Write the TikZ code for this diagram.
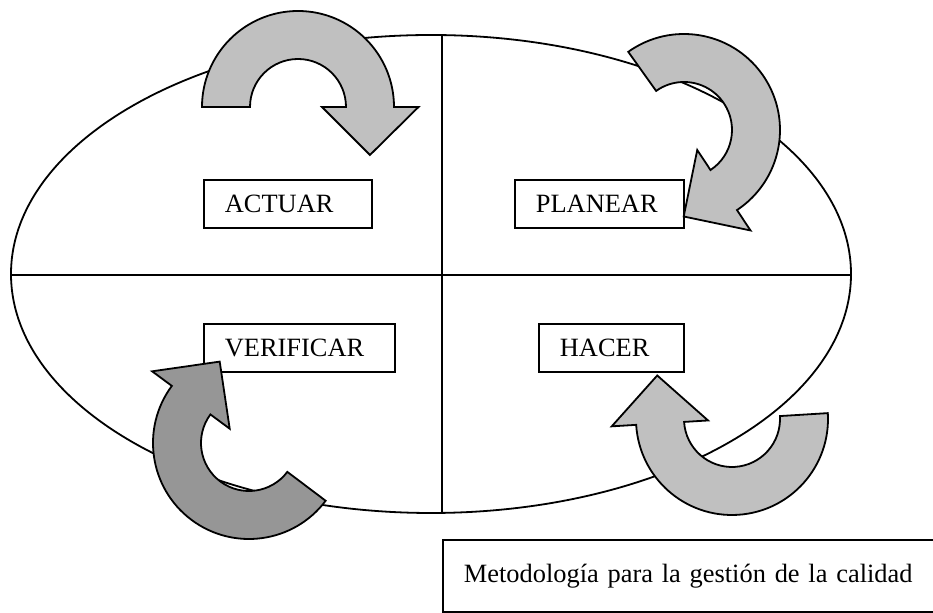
\documentclass[tikz,border=0pt]{standalone}
\usepackage{fontspec}
\setmainfont{Liberation Serif}
\usepackage{tikz}

\definecolor{grisclaro}{RGB}{192,192,192}
\definecolor{grisoscuro}{RGB}{150,150,150}

\begin{document}
\begin{tikzpicture}[x=0.5pt,y=-0.5pt,line width=0.9pt,
  etiqueta/.style={draw,fill=white,anchor=north west,align=left,inner xsep=10.5pt,
    minimum height=24pt,font=\fontsize{13.2}{15}\selectfont},
  flecha/.style={draw=black,line join=miter}]
\useasboundingbox (0,0) rectangle (933,613);
\draw (431,274) ellipse [x radius=420, y radius=239];
\draw (11,275) -- (851,275);
\draw (442,35) -- (442,513);
\node[etiqueta,text width=63pt] (actuar) at (203,179) {ACTUAR};
\node[etiqueta,text width=63.5pt] (planear) at (514,179) {PLANEAR};
\node[etiqueta,text width=74.5pt] (verificar) at (203,323) {VERIFICAR};
\node[etiqueta,text width=51.5pt] (hacer) at (538,323) {HACER};
\node[etiqueta,text width=228pt,minimum height=36pt] (titulo) at (442,539) {Metodología para la gestión de la calidad};
% actuar
\filldraw[flecha,fill=grisclaro,shift={(298,107)}] (180:96) arc[start angle=180,end angle=360,radius=96]
  -- (360:120.5) -- (393.7:86.5) -- (360:24) -- (360:48) arc[start angle=360,end angle=180,radius=48] -- cycle;
% planear
\filldraw[flecha,fill=grisclaro,shift={(684,130)}] (-125.5:96) arc[start angle=-125.5,end angle=56.5,radius=96]
  -- (56.5:120.5) -- (90.2:86.5) -- (56.5:24) -- (56.5:48) arc[start angle=56.5,end angle=-125.5,radius=48] -- cycle;
% verificar
\filldraw[flecha,fill=grisoscuro,shift={(249,443)}] (37:96) arc[start angle=37,end angle=216.5,radius=96]
  -- (216.5:120.5) -- (250.2:86.5) -- (216.5:24) -- (216.5:48) arc[start angle=216.5,end angle=37,radius=48] -- cycle;
% hacer
\filldraw[flecha,fill=grisclaro,shift={(732,419)}] (-3.5:96) arc[start angle=-3.5,end angle=176.5,radius=96]
  -- (176.5:120.5) -- (210.2:86.5) -- (176.5:24) -- (176.5:48) arc[start angle=176.5,end angle=-3.5,radius=48] -- cycle;
\end{tikzpicture}
\end{document}
